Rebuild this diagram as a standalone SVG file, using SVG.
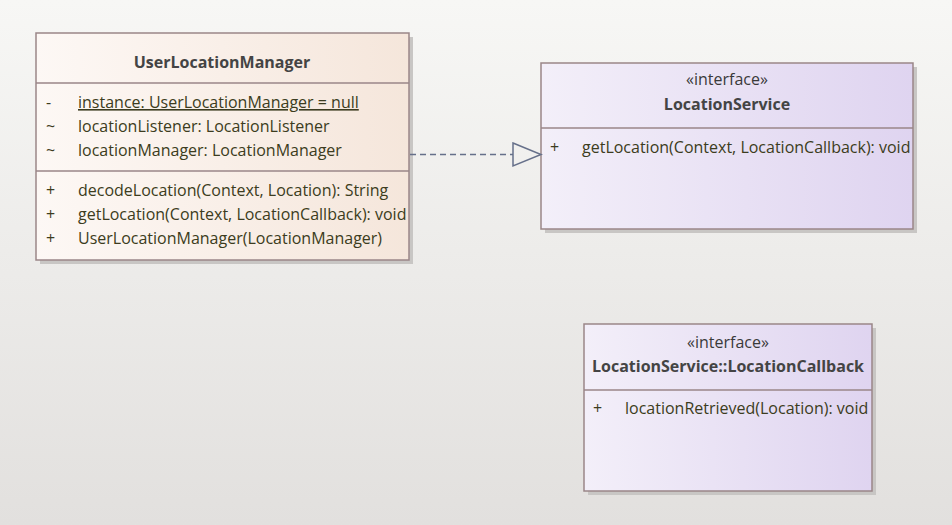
<svg xmlns="http://www.w3.org/2000/svg" width="952" height="525" viewBox="0 0 952 525">
<defs>
<linearGradient id="bg" x1="0" y1="0" x2="0" y2="1">
<stop offset="0" stop-color="#f7f7f5"/>
<stop offset="1" stop-color="#e2e0de"/>
</linearGradient>
<linearGradient id="cls" x1="0" y1="0" x2="1" y2="0">
<stop offset="0" stop-color="#fdf8f5"/>
<stop offset="1" stop-color="#f5e6db"/>
</linearGradient>
<linearGradient id="ifc" x1="0" y1="0" x2="1" y2="0">
<stop offset="0" stop-color="#f3eff9"/>
<stop offset="1" stop-color="#dfd4f0"/>
</linearGradient>
<style>
.box{stroke:#9a8688;stroke-width:1.5}
.shadow{fill:#c8c6c4}
.div{stroke:#9a8688;stroke-width:1.5}
.t{font-family:"Open Sans","Noto Sans","Liberation Sans",sans-serif;font-size:16px;fill:#3a3a3a}
.m{font-family:"Open Sans","Noto Sans","Liberation Sans",sans-serif;font-size:16px;fill:#3c3c20}
.b{font-weight:bold;fill:#444}
.c{text-anchor:middle}
.edge{stroke:#66708a;stroke-width:1.5;fill:none}
</style>
</defs>
<rect width="952" height="525" fill="url(#bg)"/>
<g id="UserLocationManager">
<rect class="shadow" x="40" y="37" width="373" height="227"/>
<rect class="box" x="36" y="33" width="373" height="227" fill="url(#cls)"/>
<line class="div" x1="36" y1="83" x2="409" y2="83"/>
<line class="div" x1="36" y1="171" x2="409" y2="171"/>
<text class="t b c" x="222" y="68">UserLocationManager</text>
<text class="m" x="46" y="108">-</text>
<text class="m" x="78" y="108" text-decoration="underline">instance: UserLocationManager = null</text>
<text class="m" x="46" y="132">~</text>
<text class="m" x="78" y="132">locationListener: LocationListener</text>
<text class="m" x="46" y="156">~</text>
<text class="m" x="78" y="156">locationManager: LocationManager</text>
<text class="m" x="46" y="196">+</text>
<text class="m" x="78" y="196">decodeLocation(Context, Location): String</text>
<text class="m" x="46" y="220">+</text>
<text class="m" x="78" y="220">getLocation(Context, LocationCallback): void</text>
<text class="m" x="46" y="244">+</text>
<text class="m" x="78" y="244">UserLocationManager(LocationManager)</text>
</g>
<g id="LocationService">
<rect class="shadow" x="545" y="67" width="372" height="166"/>
<rect class="box" x="541" y="63" width="372" height="166" fill="url(#ifc)"/>
<line class="div" x1="541" y1="128" x2="913" y2="128"/>
<text class="t c" x="727" y="85">«interface»</text>
<text class="t b c" x="727" y="110">LocationService</text>
<text class="m" x="550" y="153">+</text>
<text class="m" x="582" y="153">getLocation(Context, LocationCallback): void</text>
</g>
<g id="LocationCallback">
<rect class="shadow" x="588" y="328" width="288" height="167"/>
<rect class="box" x="584" y="324" width="288" height="167" fill="url(#ifc)"/>
<line class="div" x1="584" y1="390" x2="872" y2="390"/>
<text class="t c" x="728" y="348">«interface»</text>
<text class="t b c" x="728" y="372">LocationService::LocationCallback</text>
<text class="m" x="593" y="414">+</text>
<text class="m" x="625" y="414">locationRetrieved(Location): void</text>
</g>
<g id="connectors">
<line class="edge" x1="410" y1="154.5" x2="513" y2="154.5" stroke-dasharray="6,4"/>
<polygon class="edge" points="513,143 541,154.5 513,166" fill="#faf0ea"/>
</g>
</svg>
